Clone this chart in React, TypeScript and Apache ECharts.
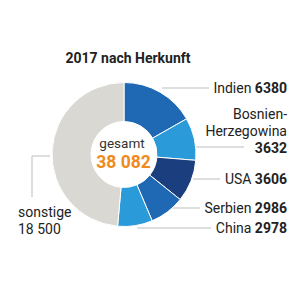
import React, { useEffect, useRef } from "react";
import * as echarts from "echarts";

const title = "2017 nach Herkunft";
const categories = ["Indien", "Bosnien-\nHerzegowina", "USA", "Serbien", "China", "sonstige"];
const values = [6380, 3632, 3606, 2986, 2978, 18500];
const colors = ["#1f68b3", "#2a9ad8", "#1a3e7e", "#1f68b3", "#2a9ad8", "#d9d8d3"];
const totalLabel = "gesamt";

// label layout (positions only)
const LAYOUT = [
  { x: 287, y: 87.5, align: "right", lineY: 88, lineEnd: 209 },
  { x: 287, y: 131, align: "right", lineY: 147, lineEnd: 244 },
  { x: 287, y: 179, align: "right", lineY: 179, lineEnd: 220 },
  { x: 287, y: 208, align: "right", lineY: 208, lineEnd: 200 },
  { x: 287, y: 227.5, align: "right", lineY: 228, lineEnd: 211 },
  { x: 18, y: 220, align: "left", lineY: 156, lineX: 32, lineEndY: 197 },
];

const fmt = (n: number) => {
  const s = String(n);
  if (n < 10000) return s;
  return s.replace(/\B(?=(\d{3})+(?!\d))/g, " ");
};

export default function App() {
  const ref = useRef<HTMLDivElement>(null);
  useEffect(() => {
    const chart = echarts.init(ref.current!, null, { renderer: "svg" });
    const total = values.reduce((a, b) => a + b, 0);
    const FONT = "Roboto";
    chart.setOption({
      animation: false,
      backgroundColor: "#ffffff",
      graphic: [
        {
          type: "text",
          x: 128,
          y: 58,
          style: {
            text: title,
            font: `bold 14px ${FONT}`,
            fill: "#222",
            align: "center",
            verticalAlign: "middle",
          },
        },
        {
          type: "text",
          x: 122,
          y: 143,
          z: 10,
          style: {
            text: totalLabel,
            fontFamily: FONT,
            fontSize: 13.5,
            lineHeight: 14,
            fill: "#333",
            align: "center",
            verticalAlign: "middle",
          },
        },
        {
          type: "text",
          x: 123.5,
          y: 161.5,
          z: 10,
          style: {
            text: fmt(total),
            fontFamily: FONT,
            fontSize: 17.5,
            fontWeight: "bold",
            lineHeight: 16,
            fill: "#f08a1c",
            align: "center",
            verticalAlign: "middle",
          },
        },
      ],
      series: [
        {
          type: "pie",
          center: [124, 154.5],
          radius: [33, 72],
          startAngle: 90,
          clockwise: true,
          avoidLabelOverlap: false,
          itemStyle: { borderColor: "#ffffff", borderWidth: 1 },
          data: categories.map((name, i) => ({
            name,
            value: values[i],
            itemStyle: { color: colors[i] },
          })),
          label: {
            show: true,
            position: "outside",
            fontFamily: FONT,
            fontSize: 14,
            color: "#222",
            lineHeight: 17,
            formatter: (p: any) => {
              const lines = String(p.name).split("\n");
              if (p.dataIndex === categories.length - 1) {
                return lines.map((l) => `{n|${l}}`).join("\n") + `\n{n|${fmt(p.value)}}`;
              }
              if (lines.length > 1) {
                return lines.map((l) => `{n|${l}}`).join("\n") + `\n{b|${fmt(p.value)}}`;
              }
              return `{n|${lines[0]}} {b|${fmt(p.value)}}`;
            },
            rich: {
              n: { fontFamily: FONT, fontSize: 14, color: "#222", lineHeight: 17 },
              b: { fontFamily: FONT, fontSize: 14, fontWeight: "bold", color: "#222", lineHeight: 17 },
            },
          },
          labelLine: {
            show: true,
            smooth: false,
            length: 10,
            length2: 10,
            lineStyle: { color: "#bdbdbd", width: 1 },
          },
          labelLayout: (params: any) => {
            const i = params.dataIndex;
            const L: any = LAYOUT[i];
            const p0 = params.labelLinePoints ? params.labelLinePoints[0] : [124, 154.5];
            let pts;
            if (L.align === "left") {
              pts = [
                [p0[0] - 2, L.lineY],
                [L.lineX, L.lineY],
                [L.lineX, L.lineEndY],
              ];
            } else {
              const sx = p0[0] + 2;
              pts = [
                [sx, L.lineY],
                [(sx + L.lineEnd) / 2, L.lineY],
                [L.lineEnd, L.lineY],
              ];
            }
            return {
              x: L.x,
              y: L.y,
              align: L.align,
              verticalAlign: "middle",
              labelLinePoints: pts,
            };
          },
        },
      ],
    });
    return () => chart.dispose();
  }, []);
  return (
    <div
      ref={ref}
      style={{ position: "fixed", left: 0, top: 0, width: 300, height: 300 }}
    />
  );
}
